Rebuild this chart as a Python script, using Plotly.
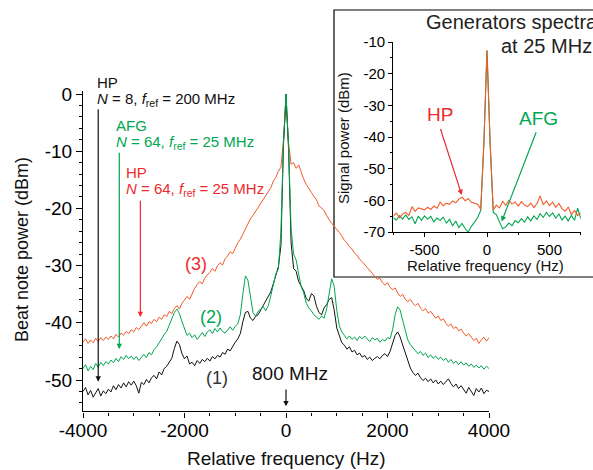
import plotly.graph_objects as go

# beat note spectra, one sample every 50 Hz
freq_hz = list(range(-4000, 4001, 50))

# (1) HP, N = 8, fref = 200 MHz
beat_hp200 = [
    -52.0, -51.3, -52.6, -51.8, -53.0, -52.2, -51.5, -52.8, -51.9, -52.4,  # -4000
    -51.6, -52.1, -51.0, -51.7, -50.8, -51.4, -50.5, -51.2, -50.3, -50.9,  # -3500
    -50.2, -51.0, -52.3, -50.4, -50.8, -49.9, -50.5, -49.6, -49.2, -49.8,  # -3000
    -48.6, -49.1, -48.0, -47.6, -47.0, -46.2, -44.5, -43.2, -43.8, -45.4,  # -2500
    -46.3, -45.8, -47.2, -46.9, -47.5, -46.6, -47.1, -46.4, -46.8, -46.2,  # -2000
    -46.7, -45.9, -46.3, -45.7, -46.0, -45.2, -45.5, -44.6, -44.9, -44.1,  # -1500
    -43.4, -42.8, -41.9, -39.8, -38.2, -38.0, -39.2, -39.6, -38.9, -38.6,  # -1000
    -37.8, -37.0, -36.3, -35.4, -34.6, -33.2, -31.8, -30.2, -26.5, -9.0,   # -500
    0.0,
    -9.5, -26.0, -30.5, -31.0, -32.8, -33.6, -34.4, -35.8, -36.2, -34.9,   # 50
    -35.3, -37.1, -38.2, -38.6, -37.4, -36.8, -35.9, -35.6, -37.8, -40.9,  # 550
    -42.3, -43.5, -43.9, -44.6, -44.2, -45.1, -44.8, -45.6, -45.3, -46.0,  # 1050
    -45.7, -46.4, -46.0, -46.6, -46.2, -45.9, -46.3, -45.7, -45.4, -45.9,  # 1550
    -45.0, -43.6, -42.2, -41.6, -42.5, -43.9, -45.2, -46.8, -47.9, -48.7,  # 2050
    -49.2, -48.8, -49.6, -50.1, -49.7, -50.3, -49.8, -50.5, -50.0, -50.7,  # 2550
    -50.2, -50.8, -50.3, -49.8, -50.6, -51.2, -50.7, -51.5, -51.0, -51.6,  # 3050
    -52.3, -51.3, -51.9, -52.7, -51.5, -52.1, -51.4, -52.4, -51.8, -52.0,  # 3550
]

# (2) AFG, N = 64, fref = 25 MHz
beat_afg25 = [
    -48.0, -47.3, -48.4, -47.6, -48.2, -47.1, -47.8, -46.9, -47.5, -46.8,  # -4000
    -47.2, -46.5, -47.0, -46.2, -46.8, -45.9, -46.4, -45.7, -46.3, -45.8,  # -3500
    -46.4, -45.9, -46.6, -46.0, -45.5, -46.1, -45.2, -45.6, -44.7, -44.2,  # -3000
    -43.6, -42.8, -42.0, -41.5, -40.4, -39.3, -38.2, -37.6, -38.4, -39.8,  # -2500
    -41.0, -42.2, -41.8, -42.6, -42.1, -42.9, -42.3, -41.7, -42.4, -41.6,  # -2000
    -41.2, -41.9, -41.0, -41.6, -40.9, -41.5, -41.8, -41.2, -40.7, -41.3,  # -1500
    -40.6, -40.2, -38.6, -35.0, -31.8, -32.6, -35.8, -38.2, -38.8, -38.0,  # -1000
    -37.6, -37.2, -37.9, -37.0, -35.3, -33.2, -31.4, -30.6, -24.0, -8.5,   # -500
    0.0,
    -9.0, -23.5, -28.0, -29.0, -31.5, -33.7, -34.8, -36.6, -37.4, -37.9,   # 50
    -38.6, -39.0, -39.4, -38.8, -39.2, -37.6, -34.5, -32.3, -33.6, -37.8,  # 550
    -40.5, -41.6, -42.2, -42.8, -42.3, -42.9, -42.5, -43.1, -42.4, -42.8,  # 1050
    -42.3, -42.9, -43.3, -42.6, -43.0, -42.7, -43.4, -42.9, -43.2, -42.6,  # 1550
    -42.8, -41.2, -38.6, -37.2, -37.8, -39.6, -41.5, -43.0, -43.8, -44.4,  # 2050
    -44.9, -45.4, -45.0, -45.7, -45.3, -46.1, -45.6, -46.2, -45.8, -46.4,  # 2550
    -46.0, -46.6, -46.2, -46.9, -46.4, -47.1, -46.7, -47.3, -46.8, -47.4,  # 3050
    -47.0, -47.6, -47.2, -47.8, -47.4, -47.9, -47.5, -48.1, -47.6, -48.0,  # 3550
]

# (3) HP, N = 64, fref = 25 MHz
beat_hp25 = [
    -43.4, -42.8, -43.6, -43.0, -43.5, -42.7, -43.3, -42.6, -43.1, -42.5,  # -4000
    -42.9, -42.3, -42.8, -42.0, -42.5, -41.8, -42.2, -41.5, -41.9, -41.2,  # -3500
    -41.6, -40.8, -41.2, -40.5, -40.0, -40.6, -39.8, -40.1, -39.4, -39.8,  # -3000
    -39.0, -39.4, -38.6, -38.9, -38.0, -38.4, -37.5, -37.0, -37.6, -36.6,  # -2500
    -36.0, -35.4, -35.9, -34.8, -34.0, -33.3, -32.8, -33.2, -32.2, -31.6,  # -2000
    -31.2, -30.5, -31.0, -30.0, -29.5, -29.9, -28.8, -28.3, -27.6, -27.9,  # -1500
    -26.8, -26.0, -25.4, -24.5, -23.6, -22.9, -21.8, -21.2, -20.5, -20.0,  # -1000
    -19.2, -18.6, -17.8, -17.2, -16.4, -15.2, -14.6, -13.5, -12.8, -8.0,   # -500
    -1.6,
    -8.5, -12.3, -12.0, -13.0, -12.4, -13.8, -14.9, -15.8, -16.6, -17.2,   # 50
    -17.9, -18.5, -19.6, -19.9, -20.4, -21.3, -22.0, -22.6, -23.1, -23.5,  # 550
    -24.2, -24.8, -25.6, -26.0, -26.7, -27.1, -27.8, -28.2, -28.9, -29.3,  # 1050
    -29.8, -30.3, -30.9, -31.3, -31.8, -32.4, -32.2, -33.0, -33.4, -33.0,  # 1550
    -33.8, -34.2, -33.9, -34.8, -35.4, -35.0, -35.9, -36.3, -35.9, -36.6,  # 2050
    -37.0, -36.6, -37.4, -37.9, -37.5, -38.3, -38.0, -38.7, -39.2, -38.8,  # 2550
    -39.6, -39.3, -40.1, -40.6, -40.2, -41.0, -40.7, -41.4, -41.1, -41.8,  # 3050
    -42.3, -41.9, -42.6, -43.1, -42.7, -43.6, -43.0, -42.5, -43.2, -42.6,  # 3550
]

# inset: generator spectra at 25 MHz, one sample every 25 Hz
gen_freq_hz = list(range(-750, 751, 25))

gen_hp = [
    -65.0, -64.0, -65.5, -64.3, -63.8, -64.8, -62.0, -63.5, -62.4, -62.8,  # -750
    -63.0, -62.2, -62.9, -61.8, -62.5, -60.6, -61.7, -60.9, -61.3, -60.2,  # -500
    -60.8, -59.6, -59.0, -60.1, -59.4, -60.6, -61.0, -61.2, -62.8, -42.0,  # -250
    -12.5,
    -42.0, -63.0, -61.5, -62.4, -60.3, -61.6, -60.0, -61.2, -60.5, -61.8,  # 25
    -60.4, -61.5, -62.0, -60.9, -62.3, -61.0, -58.6, -61.4, -60.2, -61.7,  # 275
    -60.6, -62.2, -61.0, -62.6, -63.4, -62.1, -64.5, -63.2, -64.8, -64.0,  # 525
]

gen_afg = [
    -65.5, -66.2, -64.8, -65.9, -64.6, -66.0, -65.2, -67.4, -65.0, -66.3,  # -750
    -64.9, -66.0, -65.1, -66.8, -65.6, -66.4, -65.3, -67.2, -66.0, -68.1,  # -500
    -66.5, -68.6, -67.3, -68.9, -70.0, -68.2, -66.9, -65.4, -63.2, -42.0,  # -250
    -12.8,
    -42.0, -63.8, -64.5, -66.8, -69.0, -68.4, -67.2, -68.0, -66.4, -67.1,  # 25
    -65.8, -66.9, -65.2, -66.5, -64.9, -66.0, -64.2, -65.4, -63.8, -65.1,  # 275
    -64.0, -65.6, -64.3, -66.2, -65.0, -66.5, -64.7, -66.3, -62.5, -65.8,  # 525
]

assert len(beat_hp200) == len(beat_afg25) == len(beat_hp25) == len(freq_hz)
assert len(gen_hp) == len(gen_afg) == len(gen_freq_hz)

curve_labels = ["(1)", "(2)", "(3)"]
main_xticks = [-4000, -2000, 0, 2000, 4000]
main_yticks = [0, -10, -20, -30, -40, -50]
inset_xticks = [-500, 0, 500]
inset_yticks = [-10, -20, -30, -40, -50, -60, -70]

W, H = 593, 470
FONT = "Liberation Sans, Arial, sans-serif"
BLACK = "#111111"
GREEN = "#00a651"
ORANGE = "#f15a29"
RED = "#ee2a2e"


def px(x):
    return x / W


def py(y):
    return 1 - y / H


fig = go.Figure()

fig.add_trace(go.Scatter(x=freq_hz, y=beat_hp25, mode="lines",
                         line=dict(color=ORANGE, width=1)))
fig.add_trace(go.Scatter(x=freq_hz, y=beat_hp200, mode="lines",
                         line=dict(color=BLACK, width=1)))
fig.add_trace(go.Scatter(x=freq_hz, y=beat_afg25, mode="lines",
                         line=dict(color=GREEN, width=1)))

fig.add_trace(go.Scatter(x=gen_freq_hz, y=gen_afg, mode="lines", xaxis="x2", yaxis="y2",
                         line=dict(color=GREEN, width=1.1)))
fig.add_trace(go.Scatter(x=gen_freq_hz, y=gen_hp, mode="lines", xaxis="x2", yaxis="y2",
                         line=dict(color=ORANGE, width=1.1)))

axis_common = dict(showline=True, linecolor="black", linewidth=1.2, showgrid=False,
                   zeroline=False, ticks="outside", tickcolor="black", tickwidth=1.2,
                   tickmode="array")

# main axes
fig.update_layout(
    xaxis=dict(axis_common, domain=[px(83), px(489)], range=[-4000, 4000], anchor="y",
               tickvals=main_xticks, ticktext=[str(v) for v in main_xticks], ticklen=5,
               ticklabelstandoff=-3,
               tickfont=dict(family=FONT, size=19, color="black"),
               minor=dict(tickmode="linear", tick0=0, dtick=500, ticklen=3,
                          ticks="outside", tickcolor="black", tickwidth=1.2)),
    yaxis=dict(axis_common, domain=[py(94 + 55.5 * 5.72), py(94 - 0.5 * 5.72)],
               range=[-55.5, 0.5], anchor="x",
               tickvals=main_yticks, ticktext=[str(v) for v in main_yticks], ticklen=6,
               tickfont=dict(family=FONT, size=19, color="black"),
               minor=dict(tickmode="linear", tick0=0, dtick=2, ticklen=3,
                          ticks="outside", tickcolor="black", tickwidth=1.2)),
    xaxis2=dict(axis_common, domain=[px(393.25), px(580.75)], range=[-750, 750], anchor="y2",
                tickvals=inset_xticks, ticktext=[str(v) for v in inset_xticks], ticklen=4,
                tickfont=dict(family=FONT, size=15, color="black"),
                minor=dict(tickmode="linear", tick0=0, dtick=250, ticklen=2,
                           ticks="outside", tickcolor="black", tickwidth=1)),
    yaxis2=dict(axis_common, domain=[py(232), py(42)], range=[-70, -10], anchor="x2",
                tickvals=inset_yticks, ticktext=[str(v) for v in inset_yticks], ticklen=4,
                tickfont=dict(family=FONT, size=15, color="black"),
                minor=dict(tickmode="linear", tick0=0, dtick=5, ticklen=2,
                           ticks="outside", tickcolor="black", tickwidth=1)),
)

# white inset box, drawn on the inset subplot so it hides the main curves
fig.add_shape(type="rect", xref="x2 domain", yref="y2 domain",
              x0=(334 - 393.25) / 187.5, x1=1.12, y0=(232 - 277) / 190, y1=(232 - 10) / 190,
              fillcolor="white", line=dict(color="black", width=1.2), layer="below")


def label(text, x, y, color, size, xanchor="left", angle=0):
    fig.add_annotation(text=text, x=px(x), y=py(y), xref="paper", yref="paper",
                       showarrow=False, xanchor=xanchor, yanchor="middle", textangle=angle,
                       font=dict(family=FONT, size=size, color=color))


def arrow(x, y, ax, ay, color, xr="x", yr="y"):
    fig.add_annotation(text="", x=x, y=y, ax=ax, ay=ay, xref=xr, yref=yr, axref=xr, ayref=yr,
                       showarrow=True, arrowhead=2, arrowsize=0.9, arrowwidth=1.2,
                       arrowcolor=color)


# main legend-like labels
label("HP", 95, 83, BLACK, 15)
label("<i>N</i> = 8, <i>f</i><sub>ref</sub> = 200 MHz", 95, 100, BLACK, 15)
label("AFG", 114, 125, GREEN, 15)
label("<i>N</i> = 64, <i>f</i><sub>ref</sub> = 25 MHz", 114, 142, GREEN, 15)
label("HP", 124, 172, RED, 15)
label("<i>N</i> = 64, <i>f</i><sub>ref</sub> = 25 MHz", 124, 189, RED, 15)
arrow(-3700, -50.3, -3700, -2.4, BLACK)
arrow(-3285, -44.6, -3285, -10.0, GREEN)
arrow(-2870, -39.0, -2870, -18.4, RED)

label(curve_labels[2], 196, 264, RED, 18, "center")
label(curve_labels[1], 211, 317, GREEN, 18, "center")
label(curve_labels[0], 217, 378, "#333333", 18, "center")

label("800 MHz", 290, 373, BLACK, 19, "center")
arrow(0, -54.6, 0, -51.4, BLACK)

label("Beat note power (dBm)", 22, 250, BLACK, 18, "center", -90)
label("Relative frequency (Hz)", 286, 458, BLACK, 19, "center")

# inset texts
label("Generators spectra", 424, 22, "#222222", 20)
label("at 25 MHz", 499, 46, "#222222", 20)
label("Signal power (dBm)", 343, 138, BLACK, 15, "center", -90)
label("Relative frequency (Hz)", 486, 265, BLACK, 15, "center")
label("HP", 440, 115, RED, 19, "center")
label("AFG", 538, 119, GREEN, 19, "center")
arrow(-202, -58.3, -376, -37.0, RED, "x2", "y2")
arrow(117, -66.7, 398, -38.0, GREEN, "x2", "y2")

fig.update_layout(width=W, height=H, margin=dict(l=0, r=0, t=0, b=0),
                  showlegend=False, template="none",
                  paper_bgcolor="white", plot_bgcolor="white",
                  font=dict(family=FONT, color="black"))

# no page margin and no mode bar, so the figure sits at the window's corner
fig.write_html("out.html", config={"displayModeBar": False},
               post_script="document.body.style.margin = '0';")
